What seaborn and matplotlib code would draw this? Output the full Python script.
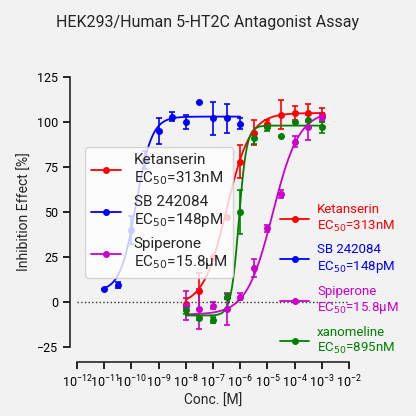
import numpy as np
import matplotlib
matplotlib.use("Agg")
import matplotlib.pyplot as plt
import seaborn as sns

# log10 concentrations and responses
blue_x = [-11.0, -10.5, -10.0, -9.5, -9.0, -8.5, -8.0, -7.5, -7.0, -6.5, -6.0]
blue_y = [7, 9.5, 40, 79, 95, 103, 100, 111, 102, 102, 99]
blue_e = [0, 1.5, 8, 5, 7, 2.5, 4, 0, 9, 8, 3]
conc_x = [-8.0, -7.5, -7.0, -6.5, -6.0, -5.5, -5.0, -4.5, -4.0, -3.5, -3.0]
red_y = [-1, 6, 25, 47, 78, 94, 99, 104, 105, 105, 104]
red_e = [3, 10, 0, 0, 9, 7, 2, 8, 4, 5, 4]
green_y = [-4.5, -9, -10, 3, 50, 91, 97, 92, 100, 101, 97]
green_e = [2, 1, 1.5, 1.5, 12, 3, 2, 0, 0, 4, 3]
mag_y = [-2, -4, -2, -4, 3, 19, 41, 60, 89, 97, 103]
mag_e = [8, 11, 2, 9, 2, 5, 2, 2, 3, 7, 2]

# fitted 4PL parameters: bottom, top, logEC50, hill
fits = {
    "red": (-2, 105, -6.50, 1.0),
    "blue": (6, 103, -9.83, 1.5),
    "magenta": (-7, 106, -4.80, 0.9),
    "green": (-7.5, 98, -6.05, 3.0),
}
labels = ["Ketanserin", "SB 242084", "Spiperone", "xanomeline"]
ecs = ["313nM", "148pM", "15.8µM", "895nM"]
colors = ["#ff0000", "#0000ff", "#cc00cc", "#008000"]

sns.set_theme(style="ticks")
plt.rcParams["font.family"] = ["Roboto", "DejaVu Sans"]
fig = plt.figure(figsize=(4.16, 4.16), dpi=100)
fig.patch.set_facecolor("#f2f2f2")
ax = fig.add_axes([77 / 416, 1 - 347 / 416, 272 / 416, 270 / 416])
ax.set_facecolor("#f2f2f2")

series = [
    (conc_x, red_y, red_e, fits["red"]),
    (blue_x, blue_y, blue_e, fits["blue"]),
    (conc_x, mag_y, mag_e, fits["magenta"]),
    (conc_x, green_y, green_e, fits["green"]),
]
handles = []
for (x, y, e, p), c, lab, ec in zip(series, colors, labels, ecs):
    xs = 10 ** np.array(x)
    ax.errorbar(xs, y, yerr=e, fmt="o", color=c, ms=4, capsize=2.5, elinewidth=1.2, capthick=1.2,
                clip_on=False)
    lx = np.linspace(min(x), max(x), 300)
    b, t, ec50, h = p
    ly = b + (t - b) / (1 + 10 ** ((ec50 - lx) * h))
    sns.lineplot(x=10 ** lx, y=ly, color=c, lw=1.3, ax=ax)
    hd, = ax.plot([], [], "-o", color=c, ms=4, lw=1.3,
                  label=f"{lab}\nEC$_{{50}}$={ec}")
    handles.append(hd)

ax.axhline(0, color="#333333", ls=":", lw=1)
ax.set_xscale("log")
ax.set_xlim(1e-12, 1e-2)
ax.set_xticks([10.0 ** k for k in range(-12, -1)])
ax.set_ylim(-25, 125)
ax.set_yticks([-25, 0, 25, 50, 75, 100, 125])
ax.tick_params(labelsize=9, width=1.2, length=5, colors="black")
ax.tick_params(which="minor", length=3, width=0.8)
for s in ["top", "right"]:
    ax.spines[s].set_visible(False)
ax.spines["left"].set_linewidth(1.2)
ax.spines["bottom"].set_linewidth(1.2)
ax.spines["left"].set_position(("outward", 5))
ax.spines["bottom"].set_position(("outward", 11))
ax.set_xlabel("Conc. [M]", fontsize=10, labelpad=2)
ax.set_ylabel("Inhibition Effect [%]", fontsize=10)
fig.text(0.5, 1 - 22 / 416, "HEK293/Human 5-HT2C Antagonist Assay", ha="center", va="center", fontsize=11.5)

leg = fig.legend(handles=handles, loc="upper left", bbox_to_anchor=(275 / 416, 1 - 198 / 416),
                 frameon=False, fontsize=9.5, handlelength=2.2, labelspacing=0.75,
                 handletextpad=0.6, borderaxespad=0)
for t, c in zip(leg.get_texts(), colors):
    t.set_color(c)

fig.savefig("out.png", dpi=100, facecolor=fig.get_facecolor())
